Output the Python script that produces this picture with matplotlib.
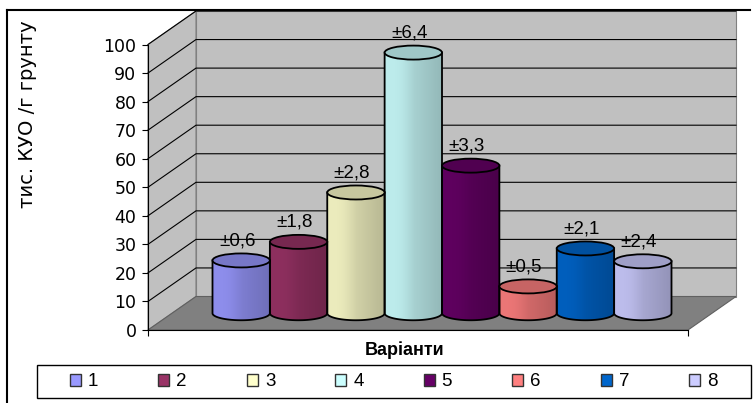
import numpy as np
import matplotlib.pyplot as plt
from matplotlib.patches import Polygon, Ellipse, PathPatch, Patch, Rectangle
from matplotlib.path import Path
from matplotlib.lines import Line2D
from matplotlib.colors import to_rgb

plt.rcParams['font.family'] = ['Liberation Sans', 'DejaVu Sans']

series = ['1', '2', '3', '4', '5', '6', '7', '8']
values = [18.5, 25.0, 42.3, 91.3, 51.7, 9.4, 22.7, 18.2]
errors = ['±0,6', '±1,8', '±2,8', '±6,4', '±3,3', '±0,5', '±2,1', '±2,4']
colors = ['#9999FF', '#993366', '#FFFFCC', '#CCFFFF',
          '#660066', '#FF8080', '#0066CC', '#CCCCFF']
yticks = list(range(0, 101, 10))

W, H = 753, 403
# pixel layout of the front plane
x0_px, x8_px = 148, 688
y0_px, y100_px = 330, 44.5
sx = (x8_px - x0_px) / 8.0
sy = (y0_px - y100_px) / 100.0
DX = 48 / sx        # depth shift in x units
DY = 33.5 / sy      # depth shift in value units

fig = plt.figure(figsize=(W / 100, H / 100), dpi=100)
ax = fig.add_axes([0, 0, 1, 1])
ax.set_facecolor('white')

wall = '#c0c0c0'
edge = '#808080'
ax.add_patch(Polygon([(0, 0), (DX, DY), (DX, 100 + DY), (0, 100)],
                     closed=True, fc=wall, ec=edge, lw=0.8, zorder=1))
ax.add_patch(Polygon([(DX, DY), (8 + DX, DY), (8 + DX, 100 + DY), (DX, 100 + DY)],
                     closed=True, fc=wall, ec=edge, lw=0.8, zorder=1))
ax.add_patch(Polygon([(0, 0), (8, 0), (8 + DX, DY), (DX, DY)],
                     closed=True, fc='#808080', ec='#606060', lw=0.8, zorder=1))

for v in yticks[1:]:
    ax.plot([0, DX, 8 + DX], [v, v + DY, v + DY], color='black', lw=0.8, zorder=2)

# cylinders
n = len(values)
bw = 0.85
gap = (8 - n * bw) / 2
r = bw / 2
eh = 14 / sy / 2     # half height of the ellipse in value units
base = DY / 2

for i, (v, c, lab) in enumerate(zip(values, colors, errors)):
    cx = gap + (i + 0.5) * bw + DX / 2
    top = base + v
    th = np.linspace(np.pi, 2 * np.pi, 60)
    pts = [(cx - r, top)] + list(zip(cx + r * np.cos(th), base + eh * np.sin(th))) + [(cx + r, top), (cx - r, top)]
    body = Path(pts, closed=True)

    rgb = np.array(to_rgb(c))
    t = np.linspace(0, 1, 80)
    f = 0.92 + 0.04 * np.sin(np.pi * np.clip(t / 0.5, 0, 1)) - 0.2 * t
    img = np.clip(rgb[None, :] * f[:, None], 0, 1)[None, :, :]
    im = ax.imshow(img, extent=[cx - r, cx + r, base - eh, top], aspect='auto',
                   origin='lower', interpolation='bilinear', zorder=3)
    patch = PathPatch(body, fc='none', ec='black', lw=1.3, zorder=4)
    ax.add_patch(patch)
    im.set_clip_path(patch)

    ax.add_patch(Ellipse((cx, top), 2 * r, 2 * eh, fc=rgb * 0.78,
                         ec='black', lw=1.3, zorder=5))
    ax.annotate(lab, (cx - 0.06, top + eh), xytext=(0, 3), textcoords='offset points',
                ha='center', va='bottom', fontsize=13.5, zorder=6)

# axes
for s in ['top', 'right']:
    ax.spines[s].set_visible(False)
ax.spines['left'].set_position(('data', 0))
ax.spines['left'].set_bounds(0, 100)
ax.spines['bottom'].set_position(('data', 0))
ax.spines['bottom'].set_bounds(0, 8)
ax.spines['left'].set_zorder(6)
ax.spines['bottom'].set_zorder(6)
ax.set_yticks(yticks)
ax.set_xticks([0, 8])
ax.set_xticklabels([])
ax.tick_params(axis='y', direction='out', length=4.3, width=0.8, pad=4, labelsize=12.5)
ax.tick_params(axis='x', direction='out', length=4.3, width=0.8)
for tl in ax.get_yticklabels():
    tl.set_family('DejaVu Sans')

ax.set_xlim(-x0_px / sx, (W - x0_px) / sx)
ax.set_ylim((y0_px - H) / sy, y0_px / sy)

fig.text(28 / W, 1 - 114 / H, 'тис. КУО /г грунту', rotation=90,
         ha='center', va='center', fontsize=14, family='DejaVu Sans')
fig.text(405 / W, 1 - 350 / H, 'Варіанти', ha='center', va='center',
         fontsize=13, fontweight='bold')

# legend
fig.add_artist(Rectangle((37 / W, 1 - 398 / H), (751 - 37) / W, 33 / H,
                         transform=fig.transFigure, fill=False, ec='black', lw=1.0))
handles = [Patch(fc=c, ec='#333333', lw=1.0) for c in colors]
fs = 13.5
em = fs * 100 / 72
leg = ax.legend(handles, series, ncol=8, loc='center left',
                bbox_to_anchor=(70 / W, 1 - 382 / H), bbox_transform=fig.transFigure,
                frameon=False, fontsize=fs, handlelength=11 / em, handleheight=11 / em,
                handletextpad=7 / em, columnspacing=60 / em,
                borderpad=0, borderaxespad=0)

fig.add_artist(Line2D([7 / W, 7 / W], [0, 1 - 10 / H], transform=fig.transFigure,
                      color='black', lw=1.5))
fig.add_artist(Line2D([7 / W, 750 / W], [1 - 10 / H, 1 - 10 / H], transform=fig.transFigure,
                      color='black', lw=1.5))

fig.savefig('out.png', dpi=100)
